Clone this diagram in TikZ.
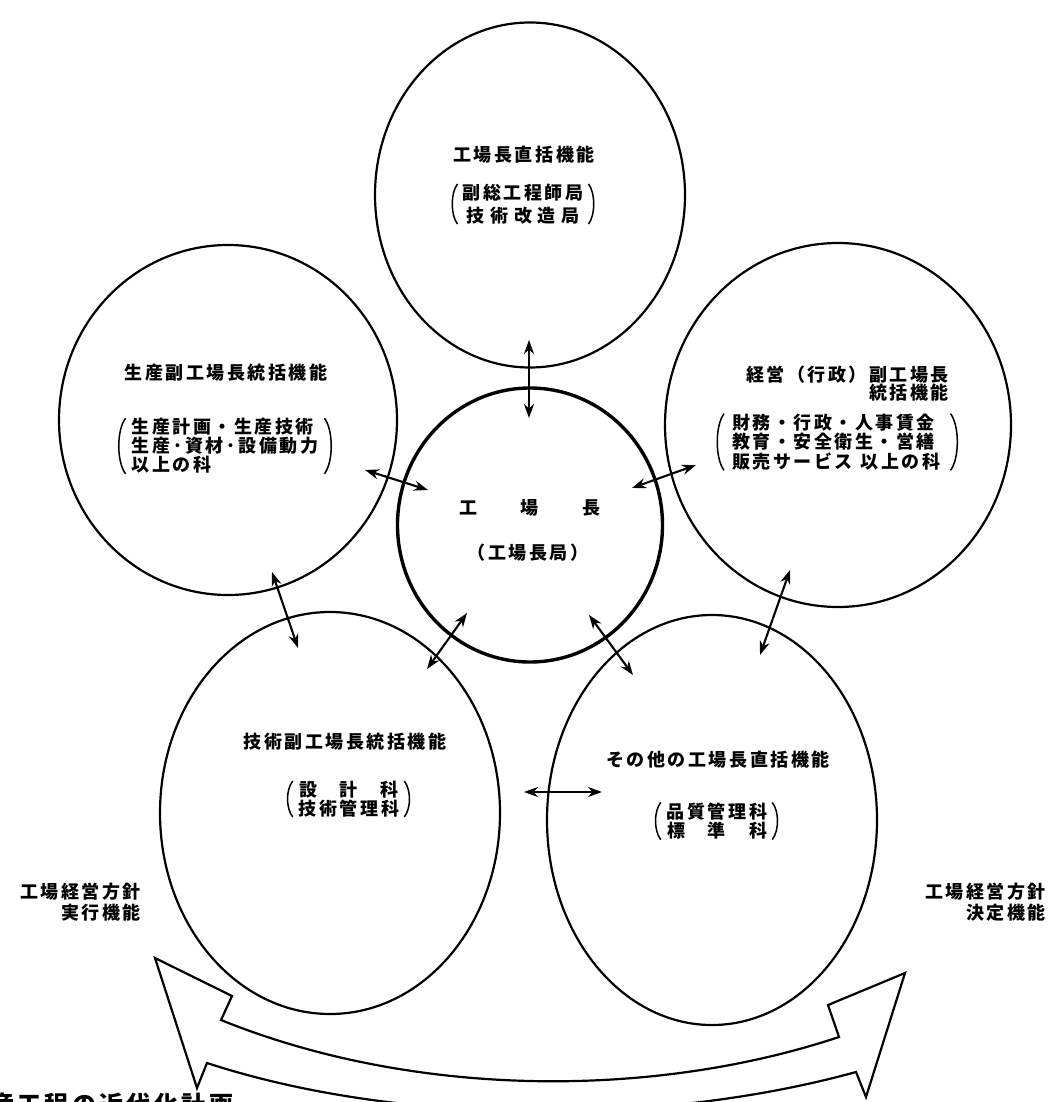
\documentclass[tikz,border=0pt]{standalone}
\usepackage{fontspec}
\newfontfamily\jp{Noto Sans CJK JP}[LetterSpace=14]
\usetikzlibrary{shapes.geometric,arrows.meta}
\newcommand\jpf{\jp\bfseries\fontsize{18}{20.5}\selectfont}
\begin{document}
\begin{tikzpicture}[x=1pt,y=-1pt,
  ring/.style={ellipse,draw,line width=2.2pt,inner sep=0pt},
  hub/.style={ring,line width=3.4pt},
  lbl/.style={font=\jpf,inner sep=0pt,align=center},
  link/.style={{Stealth[length=14pt,width=10pt]}-{Stealth[length=14pt,width=10pt]},line width=2.1pt},
  paren/.style={line width=1.5pt},
]
\useasboundingbox[fill=white] (0,0) rectangle (1048,1102);

% the six function circles
\node[ring,minimum width=310,minimum height=345] (top)   at (530,195) {};
\node[ring,minimum width=338,minimum height=350] (left)  at (228,420) {};
\node[ring,minimum width=346,minimum height=364] (right) at (838,425) {};
\node[hub, minimum width=265,minimum height=274] (hub)   at (530,525) {};
\node[ring,minimum width=340,minimum height=402] (bl)    at (330,813) {};
\node[ring,minimum width=330,minimum height=410] (br)    at (712,820) {};

% top circle
\node[lbl] (topT) at (524,155) {工場長直括機能};
\node[lbl] (topP) at (523,204) {副総工程師局\\[2pt]技\kern5.6pt術\kern5.6pt改\kern5.6pt造\kern5.6pt局};
\draw[paren] ([xshift=-5]topP.north west) .. controls +(-7,9) and +(-7,-9) .. ([xshift=-5]topP.south west);
\draw[paren] ([xshift=5]topP.north east) .. controls +(7,9) and +(7,-9) .. ([xshift=5]topP.south east);

% left circle
\node[lbl] (leftT) at (226,373) {生産副工場長統括機能};
\node[lbl,align=left] (leftP) at (225,446) {生産計画・生産技術\\[-1.5pt]
  生産\kern2pt·\kern2pt資材\kern2pt·\kern2pt設備動力\\[-1.5pt]以上の科};
\draw[paren] ([xshift=-6]leftP.north west) .. controls +(-9,12) and +(-9,-12) .. ([xshift=-6]leftP.south west);
\draw[paren] ([xshift=6]leftP.north east) .. controls +(9,12) and +(9,-12) .. ([xshift=6]leftP.south east);

% right circle
\node[lbl,align=right,anchor=east] (rightT) at (949,384) {経営（行政）副工場長\\[-2.5pt]統括機能};
\node[lbl,align=left,anchor=west] (rightP) at (732,442) {財務・行政・人事賃金\\[-1pt]
  教育・安全衛生・営繕\\[-1pt]販売サービス\kern8pt以上の科};
\draw[paren] ([xshift=-8]rightP.north west) .. controls +(-9,12) and +(-9,-12) .. ([xshift=-8]rightP.south west);
\draw[paren] ([xshift=10]rightP.north east) .. controls +(9,12) and +(9,-12) .. ([xshift=10]rightP.south east);

% centre circle
\node[lbl] (hubT) at (530,508) {工\kern44pt場\kern44pt長};
\node[lbl] (hubS) at (528,553) {（工場長局）};

% lower left circle
\node[lbl] (blT) at (345,742) {技術副工場長統括機能};
\node[lbl] (blP) at (349,799) {設\kern23pt計\kern23pt科\\[-2pt]技術管理科};
\draw[paren] ([xshift=-6]blP.north west) .. controls +(-7,9) and +(-7,-9) .. ([xshift=-6]blP.south west);
\draw[paren] ([xshift=5]blP.north east) .. controls +(7,9) and +(7,-9) .. ([xshift=5]blP.south east);

% lower right circle
\node[lbl] (brT) at (718,760) {その他の工場長直括機能};
\node[lbl] (brP) at (717,821) {品質管理科\\[-1pt]標\kern23pt準\kern23pt科};
\draw[paren] ([xshift=-6]brP.north west) .. controls +(-7,9) and +(-7,-9) .. ([xshift=-6]brP.south west);
\draw[paren] ([xshift=5]brP.north east) .. controls +(7,9) and +(7,-9) .. ([xshift=5]brP.south east);

% side captions
\node[lbl,align=right,anchor=east] (capL) at (141,902) {工場経営方針\\[0pt]実行機能};
\node[lbl,align=right,anchor=east] (capR) at (1046,902) {工場経営方針\\[0pt]決定機能};
\node[font=\jp\bfseries\fontsize{24}{26}\selectfont,inner sep=0pt,anchor=base west] (foot) at (-10,1113) {産工程の近代化計画};

% two-way links between the circles
\coordinate (topS)  at (529,340);  \coordinate (hubN)  at (529,418);
\coordinate (leftE) at (365,470);  \coordinate (hubW)  at (428,490);
\coordinate (rightW) at (696,465); \coordinate (hubE)  at (632,488);
\coordinate (leftS) at (272,572);  \coordinate (blN)   at (298,648);
\coordinate (rightS) at (790,570); \coordinate (brN)   at (760,655);
\coordinate (hubSW) at (467,613);  \coordinate (blNE)  at (427,669);
\coordinate (hubSE) at (589,615);  \coordinate (brNW)  at (633,675);
\coordinate (blE)   at (524,792);  \coordinate (brW)   at (602,792);
\draw[link] (topS) -- (hubN);
\draw[link] (leftE) -- (hubW);
\draw[link] (hubE) -- (rightW);
\draw[link] (leftS) -- (blN);
\draw[link] (rightS) -- (brN);
\draw[link] (hubSW) -- (blNE);
\draw[link] (hubSE) -- (brNW);
\draw[link] (blE) -- (brW);

% hollow curved two-way arrow along the bottom
\draw[line width=2.2pt,line join=miter]
  (207,1063) -- (197,1088) -- (155,958) -- (232,996) -- (221,1020)
  .. controls (411,1097) and (649,1100) .. (839,1037)
  -- (828,1005) -- (905,973) -- (866,1097) -- (856,1072)
  .. controls (660,1126) and (400,1126) .. cycle;
\end{tikzpicture}
\end{document}
